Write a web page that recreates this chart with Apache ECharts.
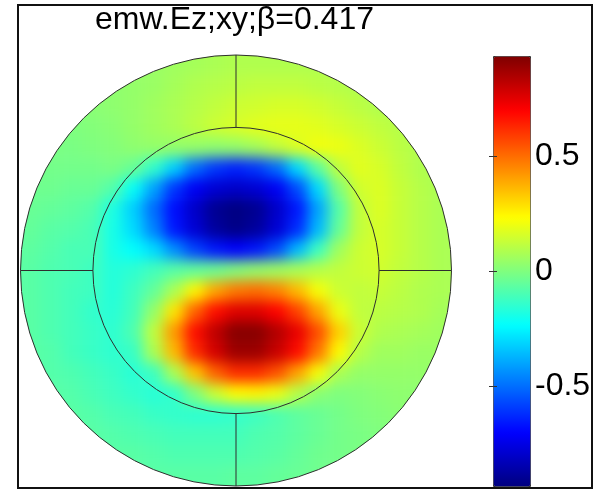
<!DOCTYPE html>
<html>
<head>
<meta charset="utf-8">
<title>emw.Ez</title>
<script src="https://cdn.jsdelivr.net/npm/echarts@6/dist/echarts.min.js"></script>
<style>
  body { margin: 0; background: #fff; }
  #wrap { position: relative; width: 604px; height: 490px; overflow: hidden; }
  /* field layer is larger than the page so its padded grid stays inside the canvas */
  #field { position: absolute; left: -80px; top: -80px; width: 764px; height: 650px; filter: blur(7px); }
  #chart { position: absolute; left: 0; top: 0; width: 604px; height: 490px; }
  #frame { position: absolute; left: 17px; top: 4px; width: 576px; height: 485px;
           border: 2px solid #111; box-sizing: border-box; pointer-events: none; }
</style>
</head>
<body>
<div id="wrap">
  <div id="field"></div>
  <div id="chart"></div>
  <div id="frame"></div>
</div>
<script>
// Ez sampled on a 21 x 21 grid over the square [-1,1] x [1,-1] (rows top to bottom)
var fieldRows = [
  [0.01,0.02,0.02,0.03,0.03,0.04,0.05,0.06,0.07,0.08,0.09,0.09,0.09,0.09,0.09,0.09,0.09,0.09,0.09,0.09,0.09],
  [0.01,0.01,0.02,0.02,0.03,0.04,0.05,0.07,0.09,0.10,0.11,0.12,0.12,0.12,0.11,0.10,0.09,0.09,0.09,0.09,0.09],
  [0.00,0.00,0.01,0.02,0.03,0.04,0.06,0.08,0.10,0.12,0.14,0.15,0.16,0.16,0.15,0.13,0.11,0.09,0.09,0.09,0.09],
  [-0.01,0.00,0.00,0.01,0.02,0.04,0.06,0.08,0.11,0.14,0.16,0.18,0.19,0.19,0.18,0.16,0.14,0.12,0.10,0.09,0.09],
  [-0.01,-0.01,-0.01,0.00,0.01,0.03,0.04,0.04,0.04,0.03,0.04,0.07,0.12,0.17,0.21,0.20,0.17,0.14,0.11,0.09,0.09],
  [-0.02,-0.02,-0.02,-0.02,-0.01,-0.04,-0.14,-0.32,-0.50,-0.60,-0.64,-0.60,-0.50,-0.30,-0.06,0.12,0.18,0.16,0.12,0.09,0.08],
  [-0.03,-0.03,-0.04,-0.04,-0.08,-0.22,-0.40,-0.60,-0.72,-0.78,-0.80,-0.78,-0.72,-0.56,-0.30,0.00,0.15,0.17,0.13,0.10,0.08],
  [-0.04,-0.05,-0.06,-0.08,-0.18,-0.32,-0.50,-0.68,-0.80,-0.90,-0.93,-0.90,-0.80,-0.66,-0.40,-0.08,0.12,0.17,0.13,0.10,0.08],
  [-0.05,-0.07,-0.08,-0.10,-0.19,-0.30,-0.46,-0.66,-0.78,-0.88,-0.92,-0.88,-0.78,-0.62,-0.36,-0.05,0.12,0.16,0.13,0.10,0.08],
  [-0.06,-0.08,-0.10,-0.10,-0.19,-0.23,-0.30,-0.44,-0.58,-0.66,-0.70,-0.66,-0.56,-0.36,-0.12,0.06,0.14,0.16,0.13,0.10,0.08],
  [-0.07,-0.09,-0.10,-0.12,-0.17,-0.15,-0.11,-0.07,-0.05,-0.03,0.01,0.04,0.06,0.08,0.10,0.12,0.14,0.15,0.12,0.10,0.08],
  [-0.07,-0.09,-0.11,-0.12,-0.17,-0.12,-0.05,0.08,0.25,0.40,0.48,0.50,0.46,0.36,0.22,0.14,0.12,0.13,0.11,0.09,0.08],
  [-0.07,-0.09,-0.11,-0.14,-0.16,-0.11,0.04,0.28,0.52,0.68,0.76,0.76,0.70,0.58,0.40,0.20,0.12,0.11,0.10,0.09,0.07],
  [-0.07,-0.09,-0.11,-0.13,-0.15,-0.09,0.12,0.42,0.68,0.82,0.92,0.92,0.84,0.74,0.56,0.32,0.14,0.09,0.08,0.07,0.06],
  [-0.07,-0.08,-0.11,-0.13,-0.15,-0.13,0.08,0.36,0.62,0.78,0.88,0.88,0.80,0.68,0.48,0.24,0.10,0.06,0.06,0.05,0.05],
  [-0.07,-0.08,-0.09,-0.11,-0.13,-0.16,-0.12,0.08,0.34,0.52,0.62,0.62,0.55,0.40,0.22,0.08,0.04,0.04,0.04,0.04,0.04],
  [-0.07,-0.07,-0.08,-0.10,-0.12,-0.14,-0.16,-0.14,0.00,0.14,0.24,0.25,0.20,0.10,0.02,0.00,0.01,0.02,0.03,0.03,0.03],
  [-0.07,-0.07,-0.07,-0.08,-0.10,-0.11,-0.13,-0.14,-0.15,-0.15,-0.14,-0.12,-0.09,-0.06,-0.04,-0.02,0.00,0.01,0.02,0.02,0.03],
  [-0.07,-0.07,-0.07,-0.07,-0.08,-0.09,-0.10,-0.11,-0.11,-0.11,-0.11,-0.09,-0.08,-0.06,-0.04,-0.02,-0.01,0.00,0.01,0.02,0.02],
  [-0.07,-0.07,-0.07,-0.07,-0.07,-0.07,-0.08,-0.09,-0.09,-0.09,-0.09,-0.08,-0.07,-0.05,-0.03,-0.02,-0.01,0.00,0.00,0.01,0.02],
  [-0.07,-0.07,-0.07,-0.07,-0.07,-0.07,-0.07,-0.07,-0.07,-0.07,-0.06,-0.06,-0.05,-0.04,-0.03,-0.02,-0.01,-0.01,0.00,0.01,0.01]
];
var titleText = 'emw.Ez;xy;\u03b2=0.417';
var colorRange = [-0.935, 0.935];
var colorbarTicks = ['-0.5', '0', '0.5'];
var ringRadii = [1, 0.664];          // outer boundary, inner core (outer radius = 1)
var spokeAngles = [0, 90, 180, 270]; // boundary lines between the two circles
var jetColors = ['#00007f', '#0000ff', '#007fff', '#00ffff', '#7fff7f',
                 '#ffff00', '#ff7f00', '#ff0000', '#7f0000'];

// plot square in pixels (page coordinates)
var plotLeft = 20.5, plotTop = 55, plotSize = 431;
var fieldShift = 80; // offset of the field layer
var n = fieldRows.length;
var cell = plotSize / n;
var pad = 2; // repeat edge cells so the blur does not fade the rim
var m = n + 2 * pad;

var cats = [];
for (var k = 0; k < m; k++) cats.push(k);
var heat = [];
for (var j = 0; j < m; j++) {
  for (var i = 0; i < m; i++) {
    var r = Math.min(n - 1, Math.max(0, j - pad));
    var c = Math.min(n - 1, Math.max(0, i - pad));
    heat.push([i, j, fieldRows[r][c]]);
  }
}

var fieldChart = echarts.init(document.getElementById('field'));
fieldChart.setOption({
  animation: false,
  grid: { left: fieldShift + plotLeft - pad * cell, top: fieldShift + plotTop - pad * cell,
          width: plotSize + 2 * pad * cell, height: plotSize + 2 * pad * cell,
          outerBoundsMode: 'none' },
  xAxis: { type: 'category', data: cats, show: false },
  yAxis: { type: 'category', data: cats, inverse: true, show: false },
  visualMap: { show: false, min: colorRange[0], max: colorRange[1],
               inRange: { color: jetColors } },
  series: [{ type: 'heatmap', data: heat, progressive: 0, itemStyle: { borderWidth: 0 } }]
});

function renderItem(params, api) {
  var o = api.coord([0, 0]);
  var unit = api.size([1, 1])[0];
  var kids = [];
  // white mask outside the outer boundary
  kids.push({ type: 'ring',
    shape: { cx: o[0], cy: o[1], r0: ringRadii[0] * unit, r: ringRadii[0] * unit * 2.4 },
    style: { fill: '#fff' } });
  ringRadii.forEach(function (rr) {
    kids.push({ type: 'circle', shape: { cx: o[0], cy: o[1], r: rr * unit },
      style: { fill: null, stroke: '#2e2e2e', lineWidth: 1 } });
  });
  spokeAngles.forEach(function (a) {
    var cs = Math.cos(a * Math.PI / 180), sn = Math.sin(a * Math.PI / 180);
    var p1 = api.coord([cs * ringRadii[1], sn * ringRadii[1]]);
    var p2 = api.coord([cs * ringRadii[0], sn * ringRadii[0]]);
    kids.push({ type: 'line', shape: { x1: p1[0], y1: p1[1], x2: p2[0], y2: p2[1] },
      style: { stroke: '#2e2e2e', lineWidth: 1 } });
  });
  return { type: 'group', children: kids };
}

// colour bar: 56..486 px spans colorRange, so one 0.5 step is 115 px
var barTop = 56, barHeight = 430;
var step = barHeight / (colorRange[1] - colorRange[0]) * 0.5;
var tickGridHeight = step * colorbarTicks.length;
var tickGridTop = barTop + barHeight / 2 - tickGridHeight / 2;
var tickAxis = {
  type: 'category', gridIndex: 1, data: colorbarTicks, z: 8,
  axisLine: { show: false }, splitLine: { show: false },
  axisTick: { show: true, inside: true, length: 4, alignWithLabel: true,
              lineStyle: { color: '#333' } }
};

var chart = echarts.init(document.getElementById('chart'));
chart.setOption({
  animation: false,
  backgroundColor: 'transparent',
  title: {
    text: titleText, left: 95, top: 4, padding: 0, z: 8,
    textStyle: { fontFamily: 'Liberation Sans', fontSize: 32, fontWeight: 'normal', color: '#000' }
  },
  grid: [
    { left: plotLeft, top: plotTop, width: plotSize, height: plotSize, outerBoundsMode: 'none' },
    { left: 493, top: tickGridTop, width: 37, height: tickGridHeight, outerBoundsMode: 'none' }
  ],
  xAxis: [
    { type: 'value', gridIndex: 0, min: -1, max: 1, show: false },
    { type: 'value', gridIndex: 1, min: 0, max: 1, show: false }
  ],
  yAxis: [
    { type: 'value', gridIndex: 0, min: -1, max: 1, show: false },
    Object.assign({}, tickAxis, { position: 'right',
      axisLabel: { show: true, margin: 5, fontFamily: 'Liberation Sans', fontSize: 32, color: '#000' } }),
    Object.assign({}, tickAxis, { position: 'left', axisLabel: { show: false } })
  ],
  visualMap: {
    type: 'continuous', seriesIndex: [], min: colorRange[0], max: colorRange[1],
    left: 493, top: barTop, itemWidth: 37, itemHeight: barHeight, padding: 0,
    calculable: false, text: null, borderColor: '#333', borderWidth: 1, z: 6,
    inRange: { color: jetColors }
  },
  series: [{
    type: 'custom', coordinateSystem: 'cartesian2d', xAxisIndex: 0, yAxisIndex: 0,
    data: [[0, 0]], renderItem: renderItem, silent: true, z: 1
  }]
});
</script>
</body>
</html>
